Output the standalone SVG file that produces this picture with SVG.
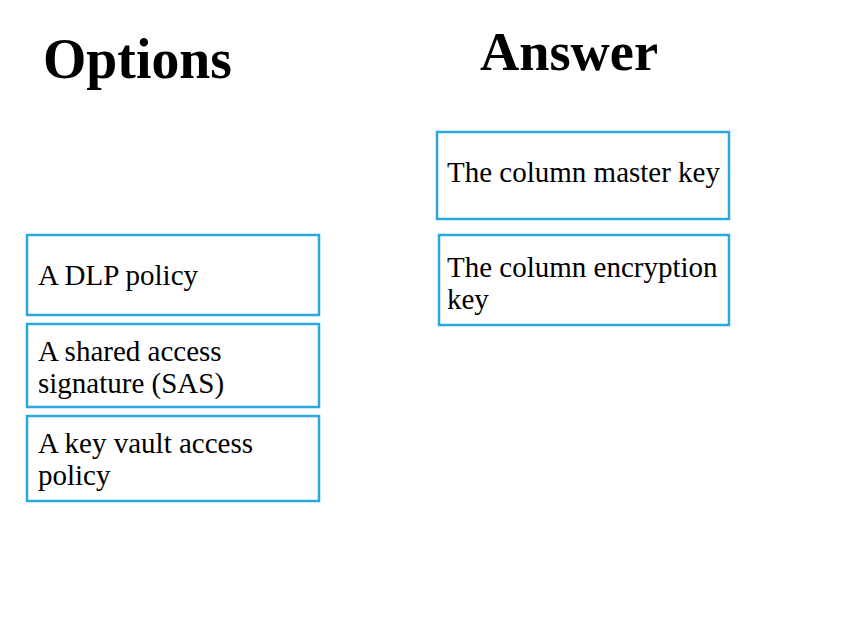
<svg xmlns="http://www.w3.org/2000/svg" width="850" height="618" viewBox="0 0 850 618">
<style>
.box{fill:#ffffff;stroke:#2aa7df;stroke-width:2.5}
.t{font-family:"Liberation Serif","Times New Roman",serif;font-size:29px;fill:#000}
.h{font-family:"Liberation Serif","Times New Roman",serif;font-weight:bold;fill:#000}
</style>
<rect width="850" height="618" fill="#ffffff"/>
<text class="h" x="43" y="78" font-size="57" textLength="189" lengthAdjust="spacingAndGlyphs">Options</text>
<text class="h" x="480" y="70" font-size="54" textLength="178" lengthAdjust="spacingAndGlyphs">Answer</text>
<g id="opt-dlp">
<rect class="box" x="27" y="235" width="292" height="80"/>
<text class="t" x="38" y="285">A DLP policy</text>
</g>
<g id="opt-sas">
<rect class="box" x="27" y="324" width="292" height="83"/>
<text class="t" x="38" y="361">A shared access</text>
<text class="t" x="38" y="393">signature (SAS)</text>
</g>
<g id="opt-kv">
<rect class="box" x="27" y="416" width="292" height="85"/>
<text class="t" x="38" y="453">A key vault access</text>
<text class="t" x="38" y="485">policy</text>
</g>
<g id="ans-cmk">
<rect class="box" x="437" y="132" width="292" height="87"/>
<text class="t" x="447" y="182">The column master key</text>
</g>
<g id="ans-cek">
<rect class="box" x="439" y="235" width="290" height="90"/>
<text class="t" x="447" y="277">The column encryption</text>
<text class="t" x="447" y="309">key</text>
</g>
<g id="connectors"></g>
</svg>
